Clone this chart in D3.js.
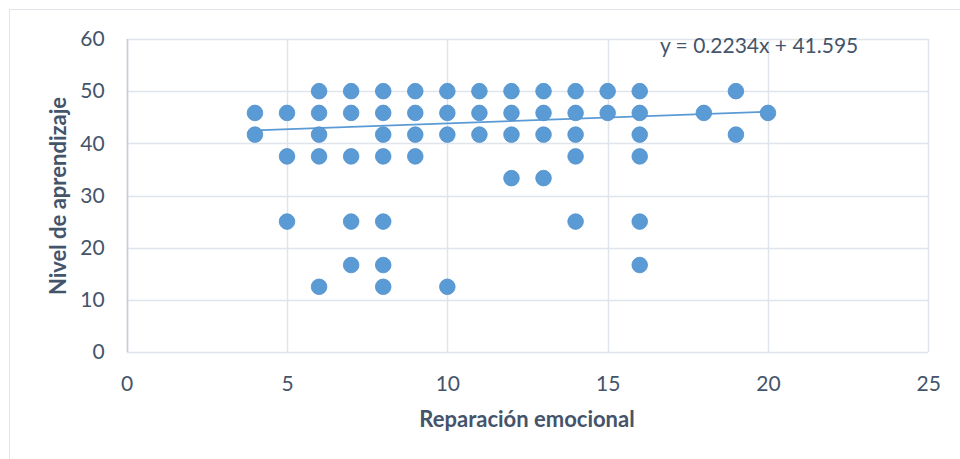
<!DOCTYPE html>
<html>
<head>
<meta charset="utf-8">
<script src="https://cdn.jsdelivr.net/npm/d3@7"></script>
<style>
  html, body { margin: 0; padding: 0; background: #fff; }
  svg { display: block; }
  text { font-family: Lato, "Open Sans", sans-serif; fill: #44546A; }
</style>
</head>
<body>
<svg id="chart" width="960" height="459"></svg>
<script>
// ---- data ----
const xValues = [
  4, 4,
  5, 5, 5,
  6, 6, 6, 6, 6,
  7, 7, 7, 7, 7,
  8, 8, 8, 8, 8, 8, 8,
  9, 9, 9, 9,
  10, 10, 10, 10,
  11, 11, 11,
  12, 12, 12, 12,
  13, 13, 13, 13,
  14, 14, 14, 14, 14,
  15, 15,
  16, 16, 16, 16, 16, 16,
  18,
  19, 19,
  20
];
const yValues = [
  45.83, 41.67,
  45.83, 37.5, 25,
  50, 45.83, 41.67, 37.5, 12.5,
  50, 45.83, 37.5, 25, 16.67,
  50, 45.83, 41.67, 37.5, 25, 16.67, 12.5,
  50, 45.83, 41.67, 37.5,
  50, 45.83, 41.67, 12.5,
  50, 45.83, 41.67,
  50, 45.83, 41.67, 33.33,
  50, 45.83, 41.67, 33.33,
  50, 45.83, 41.67, 37.5, 25,
  50, 45.83,
  50, 45.83, 41.67, 37.5, 25, 16.67,
  45.83,
  50, 41.67,
  45.83
];
const xTicks = [0, 5, 10, 15, 20, 25];
const yTicks = [0, 10, 20, 30, 40, 50, 60];
const trendSlope = 0.2234;
const trendIntercept = 41.595;
const trendLabel = "y = 0.2234x + 41.595";
const xTitle = "Reparación emocional";
const yTitle = "Nivel de aprendizaje";

// ---- layout ----
const W = 960, H = 459;
const plot = { left: 126.7, right: 928.3, top: 39, bottom: 352 };
const svg = d3.select("#chart");

const x = d3.scaleLinear().domain([0, 25]).range([plot.left, plot.right]);
const y = d3.scaleLinear().domain([0, 60]).range([plot.bottom, plot.top]);

// outer chart border
svg.append("rect")
  .attr("x", 9.5).attr("y", 9.5)
  .attr("width", W).attr("height", H)
  .attr("fill", "none").attr("stroke", "#e2e5ea").attr("stroke-width", 1);

// gridlines
const grid = svg.append("g");
grid.selectAll("line.h").data(yTicks).enter().append("line")
  .attr("x1", plot.left).attr("x2", plot.right)
  .attr("y1", d => Math.round(y(d)) + 0.5).attr("y2", d => Math.round(y(d)) + 0.5)
  .attr("stroke", "#e0e4eb").attr("stroke-width", 1.5);
grid.selectAll("line.v").data(xTicks).enter().append("line")
  .attr("y1", plot.top).attr("y2", plot.bottom)
  .attr("x1", d => Math.round(x(d)) + 0.5).attr("x2", d => Math.round(x(d)) + 0.5)
  .attr("stroke", "#e0e4eb").attr("stroke-width", 1.5);

// y axis line (slightly darker)
svg.append("line")
  .attr("x1", Math.round(x(0)) + 0.5).attr("x2", Math.round(x(0)) + 0.5)
  .attr("y1", plot.top).attr("y2", plot.bottom)
  .attr("stroke", "#c3ccda").attr("stroke-width", 1.5);

// axes via d3
const xAxis = svg.append("g")
  .attr("transform", `translate(0,${plot.bottom})`)
  .call(d3.axisBottom(x).tickValues(xTicks).tickSize(0).tickPadding(24).tickFormat(d3.format("d")));
xAxis.select(".domain").remove();
xAxis.selectAll("text").style("font-size", "21px").attr("fill", "#44546A");

const yAxis = svg.append("g")
  .attr("transform", `translate(${plot.left},0)`)
  .call(d3.axisLeft(y).tickValues(yTicks).tickSize(0).tickPadding(22).tickFormat(d3.format("d")));
yAxis.select(".domain").remove();
yAxis.selectAll("text").style("font-size", "21px").attr("fill", "#44546A");

// trendline
const xMin = d3.min(xValues), xMax = d3.max(xValues);
svg.append("line")
  .attr("x1", x(xMin)).attr("y1", y(trendSlope * xMin + trendIntercept))
  .attr("x2", x(xMax)).attr("y2", y(trendSlope * xMax + trendIntercept))
  .attr("stroke", "#5B9BD5").attr("stroke-width", 1.8);

// points
svg.append("g").selectAll("circle")
  .data(xValues.map((d, i) => [d, yValues[i]]))
  .enter().append("circle")
  .attr("cx", d => x(d[0])).attr("cy", d => y(d[1]))
  .attr("r", 7.8)
  .attr("fill", "#5B9BD5")
  .attr("stroke", "#4f8fcd").attr("stroke-width", 0.8);

// trendline equation
svg.append("text")
  .attr("x", x(16.63)).attr("y", 53)
  .style("font-size", "21px")
  .text(trendLabel);

// axis titles
svg.append("text")
  .attr("x", 527).attr("y", 427)
  .attr("text-anchor", "middle")
  .style("font-size", "22px").style("font-weight", "bold")
  .text(xTitle);

svg.append("text")
  .attr("transform", `translate(66,196) rotate(-90)`)
  .attr("text-anchor", "middle")
  .style("font-size", "22px").style("font-weight", "bold")
  .text(yTitle);
</script>
</body>
</html>
